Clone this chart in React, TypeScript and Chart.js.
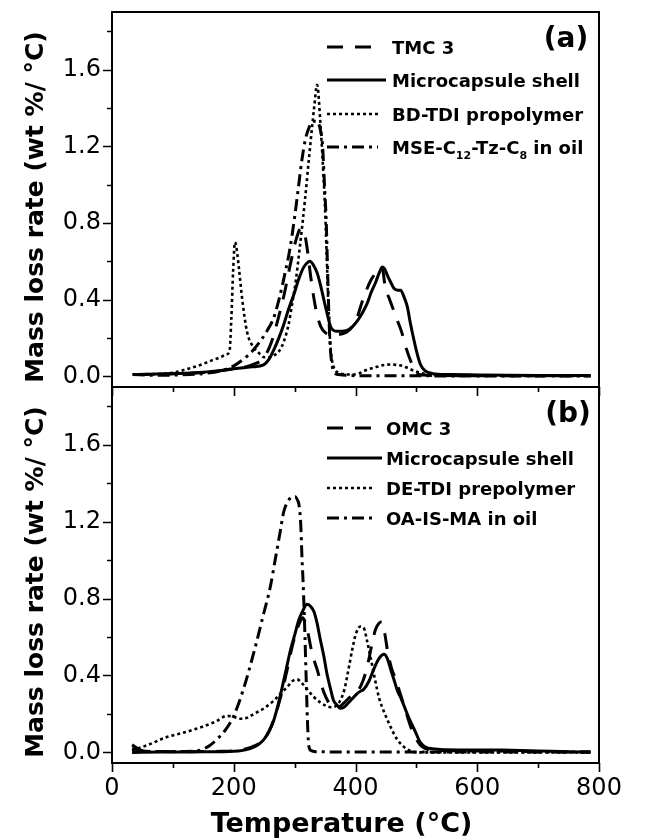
import React, { useEffect, useRef } from 'react';
import { Chart, registerables } from 'chart.js';

Chart.register(...registerables);

// ---------- axes ----------
const X_MIN = 0;
const X_MAX = 800;
const Y_MIN = -0.055;
const Y_MAX = 1.9;
const xTickValues = [0, 200, 400, 600, 800];
const xMinorValues = [100, 300, 500, 700];
const yTickValues = [0, 0.4, 0.8, 1.2, 1.6];
const yMinorValues = [0.2, 0.6, 1.0, 1.4, 1.8];

// ---------- panel (a) ----------
const aLabels = ['TMC 3', 'Microcapsule shell', 'BD-TDI propolymer', 'MSE-C12-Tz-C8 in oil'];

const aTmcT = [34, 80, 150, 200, 230, 250, 262, 272, 283, 294, 303, 310, 315, 320, 326, 331, 337, 343, 350, 358, 366, 375, 385, 395, 403, 410, 418, 425, 433, 440, 445, 449, 455, 462, 469, 476, 484, 492, 500, 510, 530, 600, 700, 786];
const aTmcV = [0.01, 0.012, 0.02, 0.04, 0.06, 0.10, 0.18, 0.29, 0.43, 0.60, 0.72, 0.77, 0.76, 0.68, 0.53, 0.42, 0.32, 0.26, 0.23, 0.22, 0.22, 0.22, 0.23, 0.26, 0.31, 0.38, 0.45, 0.50, 0.54, 0.57, 0.55, 0.46, 0.41, 0.35, 0.29, 0.23, 0.14, 0.07, 0.015, 0.008, 0.005, 0.004, 0.004, 0.004];

const aShellT = [34, 60, 100, 150, 200, 230, 249, 258, 266, 274, 282, 290, 299, 307, 315, 320, 325, 331, 337, 343, 348, 354, 359, 364, 370, 378, 386, 395, 403, 411, 419, 426, 433, 439, 444, 448, 452, 458, 463, 469, 474, 479, 485, 490, 496, 502, 507, 514, 521, 535, 556, 600, 650, 700, 750, 786];
const aShellV = [0.01, 0.012, 0.015, 0.022, 0.04, 0.05, 0.06, 0.09, 0.14, 0.2, 0.27, 0.35, 0.43, 0.51, 0.57, 0.59, 0.60, 0.58, 0.54, 0.47, 0.40, 0.32, 0.26, 0.24, 0.235, 0.235, 0.24, 0.26, 0.29, 0.33, 0.38, 0.44, 0.49, 0.54, 0.57, 0.56, 0.53, 0.49, 0.46, 0.45, 0.45, 0.42, 0.365, 0.28, 0.19, 0.11, 0.06, 0.03, 0.02, 0.012, 0.01, 0.008, 0.006, 0.005, 0.005, 0.005];

const aPolyT = [36, 70, 101, 125, 145, 165, 178, 188, 193, 196, 199, 202, 205, 209, 214, 222, 233, 242, 250, 258, 266, 274, 282, 290, 296, 302, 308, 313, 317, 324, 332, 337, 342, 347, 350, 353, 356, 359, 364, 372, 381, 392, 405, 419, 435, 447, 458, 468, 477, 485, 496, 507, 520, 540, 600, 700, 786];
const aPolyV = [0.01, 0.012, 0.02, 0.04, 0.06, 0.085, 0.10, 0.115, 0.13, 0.3, 0.55, 0.70, 0.66, 0.55, 0.40, 0.23, 0.15, 0.12, 0.10, 0.10, 0.11, 0.13, 0.18, 0.27, 0.38, 0.50, 0.66, 0.80, 0.92, 1.15, 1.40, 1.52, 1.34, 1.07, 0.88, 0.60, 0.33, 0.15, 0.05, 0.02, 0.012, 0.01, 0.015, 0.035, 0.05, 0.06, 0.062, 0.06, 0.055, 0.045, 0.03, 0.018, 0.01, 0.006, 0.004, 0.003, 0.003];

const aOilT = [34, 70, 110, 150, 180, 200, 216, 230, 245, 255, 265, 275, 285, 292, 300, 306, 312, 318, 324, 330, 336, 342, 346, 349, 352, 354, 356, 358, 361, 365, 372, 390, 450, 520, 600, 700, 786];
const aOilV = [0.01, 0.006, 0.008, 0.015, 0.03, 0.055, 0.09, 0.13, 0.19, 0.24, 0.30, 0.41, 0.55, 0.66, 0.83, 0.98, 1.13, 1.24, 1.30, 1.33, 1.33, 1.29, 1.2, 1.0, 0.8, 0.57, 0.35, 0.18, 0.07, 0.02, 0.01, 0.005, 0.003, 0.003, 0.002, 0.002, 0.002];

// ---------- panel (b) ----------
const bLabels = ['OMC 3', 'Microcapsule shell', 'DE-TDI prepolymer', 'OA-IS-MA in oil'];

const bOmcT = [33, 60, 120, 180, 215, 235, 248, 258, 268, 278, 287, 296, 303, 309, 313, 317, 322, 327, 332, 338, 344, 351, 358, 366, 375, 385, 395, 404, 412, 418, 423, 428, 433, 438, 443, 448, 453, 459, 466, 473, 481, 490, 498, 506, 515, 530, 600, 700, 786];
const bOmcV = [0.02, 0.005, 0.004, 0.006, 0.015, 0.035, 0.065, 0.11, 0.19, 0.30, 0.42, 0.55, 0.63, 0.68, 0.70, 0.68, 0.62, 0.54, 0.48, 0.42, 0.35, 0.29, 0.25, 0.235, 0.24, 0.27, 0.30, 0.32, 0.37, 0.43, 0.50, 0.58, 0.64, 0.67, 0.68, 0.62, 0.52, 0.44, 0.38, 0.31, 0.23, 0.14, 0.08, 0.04, 0.02, 0.012, 0.008, 0.004, 0.002];

const bShellT = [33, 80, 150, 200, 227, 240, 249, 258, 266, 273, 279, 286, 293, 300, 307, 314, 320, 326, 332, 337, 342, 348, 353, 359, 364, 370, 375, 381, 386, 395, 404, 414, 422, 431, 439, 447, 452, 458, 464, 469, 475, 485, 492, 498, 505, 510, 517, 523, 540, 580, 640, 700, 750, 786];
const bShellV = [0.0, 0.002, 0.003, 0.006, 0.02, 0.04, 0.065, 0.11, 0.17, 0.25, 0.33, 0.43, 0.53, 0.61, 0.69, 0.74, 0.77, 0.76, 0.73, 0.67, 0.59, 0.50, 0.41, 0.33, 0.27, 0.245, 0.23, 0.235, 0.25, 0.28, 0.31, 0.33, 0.37, 0.44, 0.49, 0.51, 0.49, 0.43, 0.37, 0.32, 0.28, 0.20, 0.15, 0.11, 0.06, 0.04, 0.025, 0.02, 0.015, 0.013, 0.012, 0.008, 0.004, 0.002];

const bPolyT = [33, 60, 90, 120, 145, 170, 189, 200, 210, 222, 233, 250, 266, 278, 288, 296, 304, 312, 320, 331, 342, 350, 359, 367, 375, 382, 389, 395, 401, 408, 414, 419, 425, 432, 439, 447, 458, 468, 479, 490, 500, 600, 786];
const bPolyV = [0.01, 0.04, 0.08, 0.105, 0.13, 0.16, 0.19, 0.185, 0.175, 0.18, 0.20, 0.23, 0.27, 0.31, 0.34, 0.37, 0.38, 0.36, 0.33, 0.29, 0.26, 0.245, 0.235, 0.24, 0.27, 0.33, 0.44, 0.54, 0.62, 0.655, 0.645, 0.58, 0.49, 0.38, 0.28, 0.21, 0.13, 0.07, 0.03, 0.008, 0.0, 0.0, 0.0];

const bOilT = [33, 45, 70, 120, 145, 160, 173, 187, 200, 216, 233, 249, 260, 268, 277, 282, 290, 296, 301, 305, 307, 310, 312, 314, 317, 319, 321, 323, 327, 335, 400, 500, 600, 700, 786];
const bOilV = [0.04, 0.015, 0.005, 0.005, 0.012, 0.035, 0.07, 0.12, 0.19, 0.33, 0.52, 0.72, 0.86, 1.00, 1.16, 1.25, 1.31, 1.33, 1.33, 1.31, 1.29, 1.19, 1.02, 0.88, 0.60, 0.38, 0.17, 0.04, 0.01, 0.004, 0.002, 0.002, 0.002, 0.002, 0.002];

// ---------- styles ----------
const FONT = "'DejaVu Sans', sans-serif";
const DASH = [16, 12];
const SOLID: number[] = [];
const DOT = [3, 3];
const DASHDOT = [12, 5, 3, 5];
const lineDashes = [DASH, SOLID, DOT, DASHDOT];
const lineWidths = [3, 3, 2.6, 3];

type Part = [string, boolean];

function splitLabel(label: string): Part[] {
  // subscripts written as digits directly after a "C" (C12, C8)
  const parts: Part[] = [];
  const re = /C(\d+)/g;
  let last = 0;
  let m: RegExpExecArray | null;
  while ((m = re.exec(label))) {
    parts.push([label.slice(last, m.index + 1), false]);
    parts.push([m[1], true]);
    last = m.index + m[0].length;
  }
  parts.push([label.slice(last), false]);
  return parts.filter((p) => p[0].length > 0);
}

function makeDataset(label: string, T: number[], V: number[], idx: number) {
  return {
    label,
    data: T.map((t, i) => ({ x: t, y: V[i] })),
    borderColor: '#000',
    backgroundColor: '#000',
    borderWidth: lineWidths[idx],
    borderDash: lineDashes[idx],
    borderCapStyle: 'butt',
    borderJoinStyle: 'round',
    pointRadius: 0,
    fill: false,
    cubicInterpolationMode: 'monotone',
  };
}

interface PanelCfg {
  tag: string;
  tagX: number;
  tagY: number;
  labels: string[];
  legendLineX0: number;
  legendLineX1: number;
  legendTextX: number;
  legendRowY: number[];
  yTitleY: number;
  showXTitle: boolean;
}

function panelPlugin(p: PanelCfg) {
  return {
    id: 'panelDecor' + p.tag,
    afterDraw(chart: any) {
      const { ctx, chartArea: a, scales } = chart;
      const xs = scales.x;
      const ys = scales.y;
      ctx.save();
      // frame
      ctx.strokeStyle = '#000';
      ctx.setLineDash([]);
      ctx.lineWidth = 2;
      ctx.strokeRect(a.left, a.top, a.right - a.left, a.bottom - a.top);
      // ticks
      ctx.lineWidth = 1.6;
      ctx.beginPath();
      for (const v of yTickValues) {
        const py = Math.round(ys.getPixelForValue(v)) + 0.5;
        ctx.moveTo(a.left - 9, py);
        ctx.lineTo(a.left, py);
      }
      for (const v of yMinorValues) {
        const py = Math.round(ys.getPixelForValue(v)) + 0.5;
        ctx.moveTo(a.left - 5, py);
        ctx.lineTo(a.left, py);
      }
      for (const v of xTickValues) {
        const px = Math.round(xs.getPixelForValue(v)) + 0.5;
        ctx.moveTo(px, a.bottom);
        ctx.lineTo(px, a.bottom + 9);
      }
      for (const v of xMinorValues) {
        const px = Math.round(xs.getPixelForValue(v)) + 0.5;
        ctx.moveTo(px, a.bottom);
        ctx.lineTo(px, a.bottom + 5);
      }
      ctx.stroke();

      // legend
      ctx.fillStyle = '#000';
      p.labels.forEach((label, i) => {
        const y = p.legendRowY[i];
        ctx.save();
        ctx.lineWidth = i === 2 ? 2.6 : 3;
        ctx.setLineDash(lineDashes[i]);
        ctx.beginPath();
        ctx.moveTo(p.legendLineX0, y);
        ctx.lineTo(i === 1 ? p.legendLineX1 + 8 : p.legendLineX1, y);
        ctx.stroke();
        ctx.restore();
        let x = p.legendTextX;
        ctx.textBaseline = 'alphabetic';
        ctx.textAlign = 'left';
        for (const [txt, sub] of splitLabel(label)) {
          ctx.font = sub ? `bold 11px ${FONT}` : `bold 18px ${FONT}`;
          ctx.fillText(txt, x, y + 6.5 + (sub ? 5 : 0));
          x += ctx.measureText(txt).width;
        }
      });

      // panel tag
      ctx.font = `bold 28px ${FONT}`;
      ctx.textAlign = 'center';
      ctx.textBaseline = 'middle';
      ctx.fillText(p.tag, p.tagX, p.tagY);

      // y title
      ctx.save();
      ctx.translate(43, p.yTitleY);
      ctx.rotate(-Math.PI / 2);
      ctx.font = `bold 25px ${FONT}`;
      ctx.textAlign = 'center';
      ctx.textBaseline = 'alphabetic';
      ctx.fillText('Mass loss rate (wt %/ \u00B0C)', 0, 0);
      ctx.restore();

      // x title
      if (p.showXTitle) {
        ctx.font = `bold 27px ${FONT}`;
        ctx.textAlign = 'center';
        ctx.textBaseline = 'alphabetic';
        ctx.fillText('Temperature (\u00B0C)', (a.left + a.right) / 2 - 14, 832);
      }
      ctx.restore();
    },
  };
}

function makeConfig(
  datasets: any[],
  padTop: number,
  padBottom: number,
  xAxisHeight: number,
  showXLabels: boolean,
  plugin: any
) {
  return {
    type: 'line',
    data: { datasets },
    plugins: [plugin],
    options: {
      responsive: false,
      animation: false,
      events: [],
      layout: { padding: { left: 0, right: 53, top: padTop, bottom: padBottom } },
      plugins: { legend: { display: false }, tooltip: { enabled: false }, title: { display: false } },
      scales: {
        x: {
          type: 'linear',
          min: X_MIN,
          max: X_MAX,
          afterBuildTicks: (s: any) => {
            s.ticks = xTickValues.map((v) => ({ value: v }));
          },
          ticks: {
            display: showXLabels,
            autoSkip: false,
            maxRotation: 0,
            padding: 11,
            color: '#000',
            font: { family: FONT, size: 24 },
            callback: (v: any) => String(v),
          },
          grid: { display: false, drawTicks: false },
          border: { display: false },
          afterFit: (s: any) => {
            s.height = xAxisHeight;
            s.paddingLeft = 0;
            s.paddingRight = 0;
            s.paddingTop = 0;
            s.paddingBottom = 0;
          },
        },
        y: {
          type: 'linear',
          min: Y_MIN,
          max: Y_MAX,
          afterBuildTicks: (s: any) => {
            s.ticks = yTickValues.map((v) => ({ value: v }));
          },
          ticks: {
            autoSkip: false,
            padding: 11,
            color: '#000',
            font: { family: FONT, size: 24 },
            callback: (v: any) => Number(v).toFixed(1),
          },
          grid: { display: false, drawTicks: false },
          border: { display: false },
          afterFit: (s: any) => {
            s.width = 112;
            s.paddingLeft = 0;
            s.paddingRight = 0;
            s.paddingTop = 0;
            s.paddingBottom = 0;
          },
        },
      },
    },
  };
}

export default function App() {
  const refA = useRef<HTMLCanvasElement>(null);
  const refB = useRef<HTMLCanvasElement>(null);

  useEffect(() => {
    const dsA = [
      makeDataset(aLabels[0], aTmcT, aTmcV, 0),
      makeDataset(aLabels[1], aShellT, aShellV, 1),
      makeDataset(aLabels[2], aPolyT, aPolyV, 2),
      makeDataset(aLabels[3], aOilT, aOilV, 3),
    ];
    const dsB = [
      makeDataset(bLabels[0], bOmcT, bOmcV, 0),
      makeDataset(bLabels[1], bShellT, bShellV, 1),
      makeDataset(bLabels[2], bPolyT, bPolyV, 2),
      makeDataset(bLabels[3], bOilT, bOilV, 3),
    ];
    const pluginA = panelPlugin({
      tag: '(a)',
      tagX: 566,
      tagY: 40,
      labels: aLabels,
      legendLineX0: 327,
      legendLineX1: 378,
      legendTextX: 392,
      legendRowY: [47, 80, 114, 147],
      yTitleY: 207,
      showXTitle: false,
    });
    const pluginB = panelPlugin({
      tag: '(b)',
      tagX: 568,
      tagY: 415,
      labels: bLabels,
      legendLineX0: 327,
      legendLineX1: 374,
      legendTextX: 386,
      legendRowY: [428, 458, 488, 518],
      yTitleY: 582,
      showXTitle: true,
    });
    const ca = new Chart(refA.current as HTMLCanvasElement, makeConfig(dsA, 12, 440, 13, false, pluginA) as any);
    const cb = new Chart(refB.current as HTMLCanvasElement, makeConfig(dsB, 387, 0, 77, true, pluginB) as any);
    return () => {
      ca.destroy();
      cb.destroy();
    };
  }, []);

  const cs: React.CSSProperties = { position: 'absolute', left: 0, top: 0, width: 652, height: 840 };
  return (
    <div style={{ position: 'absolute', left: 0, top: 0, width: 652, height: 840, background: '#fff' }}>
      <canvas ref={refA} width={652} height={840} style={cs} />
      <canvas ref={refB} width={652} height={840} style={cs} />
    </div>
  );
}
